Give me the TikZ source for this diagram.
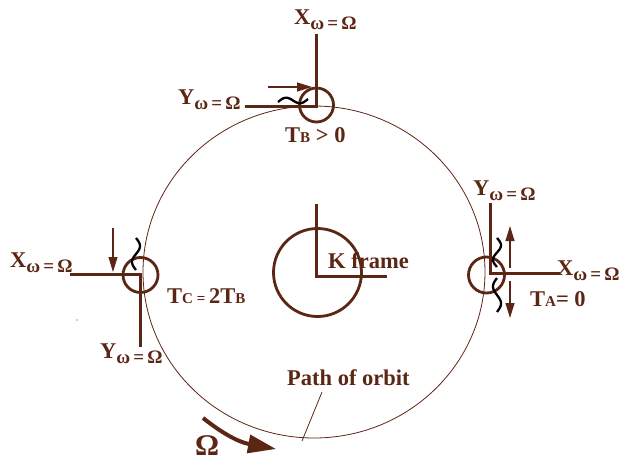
\documentclass[tikz,border=0pt]{standalone}
\usepackage{fontspec}
\setmainfont{Liberation Serif}
\usetikzlibrary{arrows.meta}
\definecolor{brn}{RGB}{92,38,20}
\newcommand{\wsub}{\raisebox{-5pt}{\fontsize{19}{19}\selectfont ω\,=\,Ω}}
\newcommand{\lowcap}[1]{{\fontsize{15}{15}\selectfont #1}}
\begin{document}
\begin{tikzpicture}[x=1pt, y=-1pt,
  every node/.style={text=brn, inner sep=0pt, font=\bfseries\fontsize{22.5}{24}\selectfont},
  axis/.style={brn, line width=3pt},
  ring/.style={brn, line width=2.8pt},
  wig/.style={black, line width=2.3pt},
  push/.style={brn, line width=1.2pt, -{Triangle[length=15pt, width=9pt]}}]
\useasboundingbox (0,0) rectangle (622,461);

% path of the orbit
\draw[brn, line width=0.8pt] (314,272) ellipse [x radius=171pt, y radius=166pt];
\fill[brn] (77,320) circle (0.7pt);

% K frame in the middle
\coordinate (K) at (316,276);
\draw[ring] (317.5,272.5) circle [radius=44pt];
\draw[axis] (316,204) -- (K) -- (387,276);
\node[anchor=base west] (kfr) at (328,268) {K frame};

% frame B on top
\coordinate (B) at (316,106);
\draw[ring] (316.5,105) circle [radius=17pt];
\draw[axis] (316,34) -- (B) -- (245,106);
\node[anchor=base west] (xb) at (294,24) {X\wsub};
\node[anchor=base west] (yb) at (178,104) {Y\wsub};
\node[anchor=base west] (tb) at (285,142) {T\lowcap{B} > 0};
\draw[push] (268,87) -- (312,87);
\draw[wig] plot[domain=0:1, samples=30, smooth] ({278+30*\x}, {102-3.5*sin(360*\x)-3*\x});

% frame C on the left
\coordinate (C) at (140,274);
\draw[ring] (140.5,275) circle [radius=17.5pt];
\draw[axis] (70,274) -- (C) -- (140,347);
\node[anchor=base west] (xc) at (10,267) {X\wsub};
\node[anchor=base west] (yc) at (100,358) {Y\wsub};
\node[anchor=base west] (tc) at (167,303) {T\lowcap{C = }2T\lowcap{B}};
\draw[push] (113,228) -- (113,272);
\draw[wig] plot[domain=0:1, samples=30, smooth] ({136+4*sin(360*\x)}, {238+32*\x});

% frame A on the right
\coordinate (A) at (490,273);
\draw[ring] (486.5,275) circle [radius=18pt];
\draw[axis] (490,203) -- (A) -- (560,273);
\node[anchor=base west] (ya) at (473,195) {Y\wsub};
\node[anchor=base west] (xa) at (557,275) {X\wsub};
\node[anchor=base west] (ta) at (530,306) {T\lowcap{A}= 0};
\draw[push] (510,268) -- (510,226);
\draw[push] (510,281) -- (510,318);
\draw[wig] plot[domain=0:1, samples=30, smooth] ({497+4*sin(360*\x)}, {238+29*\x});
\draw[wig] plot[domain=0:1, samples=30, smooth] ({497-4*sin(360*\x)}, {278+34*\x});

% orbit label and sense of rotation
\node[anchor=base west] (orbit) at (287,385) {Path of orbit};
\coordinate (lead) at (322,392);
\coordinate (onorb) at (302,441);
\draw[brn, line width=0.8pt] (lead) -- (onorb);
\node[anchor=base west, font=\bfseries\fontsize{30}{31}\selectfont] (om) at (195,455) {Ω};
\coordinate (om1) at (203,418);
\coordinate (om2) at (276,449);
\draw[brn, line width=4pt, -{Triangle[length=28pt, width=18pt]}] (om1) .. controls (222,433) and (238,442) .. (om2);
\end{tikzpicture}
\end{document}
